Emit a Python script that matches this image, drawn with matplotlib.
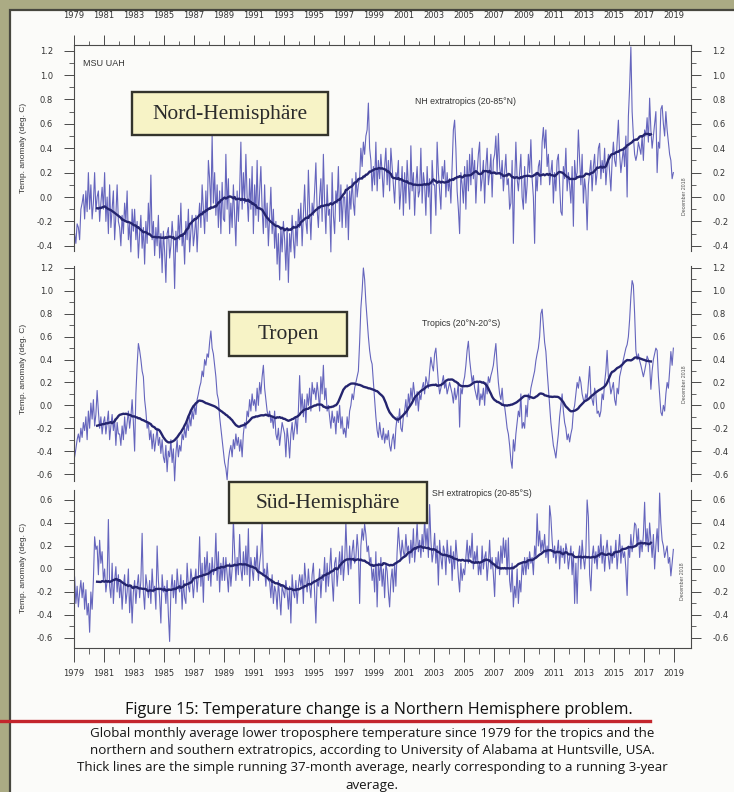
import numpy as np
import matplotlib.pyplot as plt
from matplotlib.patches import Rectangle
from matplotlib.lines import Line2D
from matplotlib.ticker import MultipleLocator, FixedLocator, FuncFormatter

# monthly anomalies (deg C), one row per year 1979..2018
nh_rows = [
    [-0.30, -0.38, -0.22, -0.25, -0.35, -0.10, -0.05, 0.02, -0.18, 0.05, -0.12, 0.20],
    [-0.10, 0.10, -0.18, -0.05, 0.20, -0.12, 0.00, 0.05, -0.20, -0.05, 0.08, -0.10],
    [0.20, -0.20, 0.00, -0.30, 0.10, -0.25, -0.10, 0.05, -0.35, -0.15, 0.10, -0.20],
    [-0.25, -0.40, -0.15, -0.30, -0.05, -0.20, 0.05, -0.35, -0.22, -0.45, -0.10, -0.28],
    [-0.10, -0.35, -0.20, -0.50, -0.30, -0.15, -0.42, -0.25, -0.55, -0.20, -0.38, -0.05],
    [-0.30, 0.18, -0.35, -0.20, -0.48, -0.25, -0.40, -0.15, -0.50, -0.30, -0.62, -0.28],
    [-0.45, -0.70, -0.30, -0.25, -0.50, -0.40, -0.20, -0.35, -0.75, -0.28, -0.45, -0.15],
    [-0.35, -0.05, -0.40, -0.30, -0.55, -0.20, -0.35, -0.10, -0.45, -0.28, -0.15, -0.40],
    [-0.30, -0.15, -0.45, -0.20, -0.05, -0.25, 0.10, -0.10, -0.30, 0.05, -0.20, 0.30],
    [0.15, -0.10, 0.50, -0.05, 0.20, -0.15, 0.10, -0.25, 0.05, -0.30, 0.12, -0.18],
    [-0.20, 0.35, -0.10, 0.15, -0.30, -0.05, -0.25, 0.10, -0.15, -0.40, 0.05, -0.20],
    [0.05, 0.45, -0.10, 0.20, -0.05, 0.35, 0.00, -0.20, 0.15, -0.10, 0.25, -0.30],
    [0.10, -0.15, 0.30, -0.20, 0.05, 0.25, -0.10, -0.30, 0.10, -0.25, -0.05, -0.40],
    [-0.15, 0.08, -0.30, -0.10, -0.42, -0.20, -0.55, -0.30, -0.68, -0.25, -0.45, -0.20],
    [-0.35, -0.60, -0.25, -0.70, -0.30, -0.45, -0.15, -0.35, -0.50, -0.20, -0.40, -0.10],
    [-0.25, -0.05, -0.40, -0.15, 0.10, -0.20, -0.30, 0.22, -0.10, -0.35, -0.05, -0.15],
    [0.05, 0.28, -0.10, -0.25, 0.00, 0.15, -0.20, 0.35, -0.05, -0.30, 0.10, -0.15],
    [-0.10, -0.45, 0.20, -0.15, -0.30, 0.05, -0.05, 0.25, -0.20, 0.10, -0.25, 0.00],
    [0.00, -0.25, 0.10, -0.35, 0.05, -0.10, 0.15, -0.05, -0.15, 0.20, 0.00, 0.10],
    [0.15, 0.40, 0.25, 0.45, 0.35, 0.50, 0.55, 0.77, 0.40, 0.30, 0.05, 0.25],
    [0.10, 0.45, 0.05, 0.30, 0.15, 0.35, 0.20, 0.00, 0.25, 0.40, 0.10, 0.30],
    [0.05, 0.40, 0.25, 0.10, -0.05, 0.20, 0.15, 0.30, -0.10, 0.05, 0.25, -0.15],
    [0.20, -0.05, 0.30, 0.10, -0.10, 0.42, 0.05, 0.20, -0.15, 0.10, 0.25, 0.00],
    [0.05, 0.40, -0.05, 0.20, 0.10, -0.15, 0.25, 0.00, 0.15, -0.30, 0.30, 0.10],
    [0.10, -0.15, 0.45, 0.20, 0.05, -0.10, 0.25, 0.15, 0.30, 0.00, 0.20, 0.05],
    [0.15, -0.05, 0.25, 0.55, 0.63, 0.40, 0.05, -0.10, -0.30, 0.20, 0.10, -0.05],
    [0.25, -0.10, 0.30, 0.05, 0.35, 0.10, 0.40, 0.15, 0.30, -0.05, 0.20, 0.35],
    [0.45, 0.05, 0.15, 0.30, -0.05, 0.25, 0.40, 0.10, 0.20, 0.35, 0.00, 0.30],
    [0.35, 0.50, 0.20, 0.52, 0.25, 0.15, 0.30, 0.05, 0.20, 0.35, 0.10, 0.15],
    [-0.10, -0.05, 0.30, -0.38, 0.10, 0.45, 0.15, 0.05, 0.20, 0.35, 0.00, -0.10],
    [0.25, -0.05, 0.10, 0.35, 0.20, 0.47, 0.15, 0.00, -0.38, 0.20, 0.05, 0.25],
    [0.30, 0.10, 0.45, 0.57, 0.40, 0.55, 0.25, 0.35, 0.10, 0.20, 0.30, -0.05],
    [0.20, 0.05, 0.30, 0.35, 0.10, -0.12, -0.15, 0.25, 0.15, 0.40, 0.05, 0.20],
    [0.10, -0.05, 0.25, -0.24, 0.30, 0.15, 0.20, 0.55, 0.30, 0.10, 0.35, -0.05],
    [0.15, 0.05, -0.27, 0.10, 0.20, 0.30, 0.05, 0.25, 0.35, 0.10, 0.20, 0.40],
    [0.44, 0.15, 0.30, 0.20, 0.40, 0.10, 0.25, 0.35, 0.20, 0.05, 0.30, 0.45],
    [0.30, 0.25, 0.45, 0.63, 0.35, 0.20, 0.30, 0.40, 0.25, 0.50, 0.00, 0.66],
    [0.90, 1.23, 0.70, 0.50, 0.35, 0.30, 0.35, 0.45, 0.40, 0.35, 0.50, 0.30],
    [0.55, 0.50, 0.65, 0.45, 0.81, 0.55, 0.40, 0.50, 0.60, 0.70, 0.20, 0.45],
    [0.40, 0.72, 0.75, 0.60, 0.50, 0.70, 0.55, 0.45, 0.35, 0.30, 0.15, 0.20],
]

tr_rows = [
    [-0.45, -0.38, -0.30, -0.25, -0.32, -0.20, -0.28, -0.15, -0.22, -0.10, -0.30, -0.05],
    [-0.20, 0.02, -0.12, 0.05, -0.18, -0.08, 0.13, -0.05, -0.20, -0.10, -0.25, -0.15],
    [-0.10, -0.25, -0.15, -0.05, -0.30, -0.18, -0.08, -0.22, -0.12, -0.35, -0.15, -0.25],
    [-0.25, -0.35, -0.18, -0.30, -0.10, -0.25, -0.15, -0.05, -0.20, -0.10, 0.05, -0.15],
    [-0.40, 0.10, 0.35, 0.54, 0.48, 0.40, 0.30, 0.25, 0.05, -0.05, -0.20, -0.15],
    [-0.30, -0.22, -0.38, -0.25, -0.40, -0.30, -0.20, -0.35, -0.28, -0.42, -0.30, -0.45],
    [-0.50, -0.35, -0.58, -0.40, -0.45, -0.30, -0.50, -0.38, -0.66, -0.42, -0.30, -0.45],
    [-0.35, -0.40, -0.25, -0.30, -0.20, -0.28, -0.15, -0.22, -0.10, -0.18, -0.05, -0.12],
    [0.00, -0.08, 0.05, 0.10, 0.16, 0.20, 0.30, 0.25, 0.40, 0.35, 0.45, 0.42],
    [0.55, 0.65, 0.50, 0.45, 0.35, 0.25, 0.10, 0.05, -0.10, -0.20, -0.30, -0.40],
    [-0.50, -0.55, -0.65, -0.48, -0.40, -0.35, -0.45, -0.30, -0.38, -0.25, -0.35, -0.28],
    [-0.40, -0.30, -0.45, -0.25, -0.15, -0.20, -0.05, -0.10, 0.05, -0.05, 0.10, 0.00],
    [0.05, -0.05, 0.15, 0.00, 0.20, 0.10, 0.25, 0.35, 0.15, 0.05, -0.05, -0.10],
    [-0.05, -0.15, -0.10, -0.20, -0.05, -0.25, -0.30, -0.20, -0.35, -0.25, -0.15, -0.20],
    [-0.25, -0.45, -0.20, -0.30, -0.46, -0.25, -0.15, -0.30, -0.20, -0.10, -0.25, -0.05],
    [0.26, -0.05, 0.10, -0.10, 0.05, -0.15, 0.10, 0.00, 0.15, -0.05, 0.20, 0.10],
    [0.15, 0.05, 0.20, 0.10, -0.05, 0.25, 0.10, 0.35, 0.05, 0.15, -0.05, 0.00],
    [-0.10, -0.20, -0.05, -0.15, -0.10, -0.25, -0.05, -0.15, 0.00, -0.20, -0.10, -0.25],
    [-0.20, -0.28, -0.10, -0.20, -0.05, 0.00, 0.10, 0.05, 0.15, 0.20, 0.25, 0.30],
    [0.55, 0.85, 1.00, 1.20, 1.10, 0.90, 0.75, 0.60, 0.48, 0.40, 0.36, 0.20],
    [0.05, -0.10, -0.22, -0.28, -0.15, -0.25, -0.30, -0.20, -0.33, -0.25, -0.30, -0.22],
    [-0.35, -0.40, -0.30, -0.25, -0.38, -0.20, -0.10, -0.15, -0.03, -0.20, -0.23, -0.10],
    [-0.05, 0.05, -0.10, 0.10, 0.00, 0.15, 0.05, 0.20, 0.10, 0.00, 0.12, -0.05],
    [0.10, 0.05, 0.15, 0.20, 0.10, 0.25, 0.20, 0.15, 0.30, 0.42, 0.35, 0.30],
    [0.45, 0.50, 0.35, 0.20, 0.10, 0.15, 0.20, 0.26, 0.15, 0.20, 0.10, 0.15],
    [0.20, 0.15, 0.10, 0.02, 0.15, 0.05, 0.10, 0.20, -0.19, 0.15, 0.10, 0.20],
    [0.25, 0.35, 0.48, 0.56, 0.40, 0.30, 0.20, 0.26, 0.15, 0.10, 0.05, 0.20],
    [0.00, 0.10, 0.05, 0.15, 0.00, 0.20, 0.10, 0.25, 0.20, 0.26, 0.30, 0.35],
    [0.45, 0.54, 0.35, 0.20, 0.10, 0.05, 0.15, 0.00, -0.01, -0.10, -0.20, -0.25],
    [-0.35, -0.48, -0.55, -0.30, -0.40, -0.25, -0.15, -0.05, -0.10, 0.10, -0.20, -0.15],
    [-0.20, 0.00, -0.10, 0.10, 0.05, 0.15, 0.20, 0.25, 0.30, 0.39, 0.45, 0.50],
    [0.60, 0.80, 0.84, 0.70, 0.55, 0.47, 0.30, 0.15, 0.00, -0.15, -0.25, -0.35],
    [-0.40, -0.46, -0.35, -0.25, -0.10, 0.00, 0.10, -0.05, -0.15, -0.20, -0.30, -0.25],
    [-0.32, -0.25, -0.20, -0.05, 0.00, 0.10, 0.20, 0.15, 0.25, 0.20, 0.10, 0.05],
    [0.03, 0.10, 0.05, 0.20, 0.34, 0.10, 0.05, 0.00, 0.15, 0.10, -0.07, -0.05],
    [-0.10, -0.05, 0.10, 0.05, 0.20, 0.30, 0.48, 0.25, 0.20, 0.10, 0.15, 0.20],
    [0.05, 0.00, 0.15, 0.10, 0.25, 0.30, 0.35, 0.40, 0.45, 0.50, 0.53, 0.60],
    [0.75, 0.95, 1.09, 1.05, 0.80, 0.48, 0.40, 0.45, 0.39, 0.35, 0.30, 0.25],
    [0.30, 0.36, 0.43, 0.40, 0.35, 0.14, 0.30, 0.40, 0.45, 0.50, 0.48, 0.25],
    [0.10, -0.06, -0.09, 0.00, -0.05, 0.10, 0.20, 0.15, 0.30, 0.47, 0.35, 0.50],
]

sh_rows = [
    [-0.07, -0.30, -0.15, -0.33, -0.20, -0.10, -0.25, -0.12, -0.35, -0.18, -0.40, -0.30],
    [-0.55, -0.20, -0.35, -0.10, 0.28, 0.17, 0.20, -0.05, 0.25, 0.05, 0.15, -0.10],
    [0.00, -0.20, -0.10, 0.43, -0.15, -0.25, 0.05, -0.30, -0.10, 0.02, -0.20, -0.05],
    [-0.25, -0.10, -0.35, -0.15, -0.05, -0.30, -0.20, 0.00, -0.38, -0.15, -0.47, -0.20],
    [-0.10, -0.30, -0.15, -0.05, -0.25, -0.10, 0.31, -0.20, -0.35, -0.05, -0.15, -0.25],
    [-0.10, -0.30, 0.00, -0.20, -0.15, -0.35, 0.20, -0.10, -0.25, -0.47, -0.05, -0.20],
    [-0.15, -0.30, -0.10, -0.40, -0.63, -0.20, -0.05, -0.25, -0.10, -0.30, 0.00, -0.15],
    [-0.20, -0.05, -0.35, -0.10, -0.25, -0.30, 0.05, -0.15, -0.20, 0.00, -0.10, -0.25],
    [-0.10, 0.00, -0.20, -0.05, 0.28, -0.15, 0.05, -0.29, 0.10, -0.05, 0.15, -0.10],
    [0.05, -0.15, 0.10, -0.05, 0.00, 0.31, -0.10, 0.15, -0.20, 0.05, -0.10, 0.10],
    [-0.10, 0.10, -0.05, -0.20, 0.05, -0.15, 0.00, 0.43, 0.15, -0.10, 0.10, -0.05],
    [0.30, 0.00, -0.10, 0.15, -0.05, 0.20, -0.05, 0.35, -0.15, 0.10, 0.00, -0.10],
    [0.10, 0.00, 0.20, -0.10, 0.05, 0.15, 0.40, -0.05, 0.00, -0.15, 0.05, -0.10],
    [-0.11, -0.25, -0.05, -0.30, -0.15, -0.20, -0.35, -0.10, -0.25, -0.40, -0.15, -0.20],
    [-0.25, -0.10, -0.20, -0.35, -0.15, -0.47, -0.05, -0.20, -0.25, -0.10, -0.30, -0.15],
    [-0.05, -0.15, -0.05, -0.30, 0.05, -0.10, -0.20, 0.00, -0.15, -0.25, -0.05, 0.05],
    [-0.20, -0.47, -0.10, -0.15, 0.00, -0.25, -0.05, -0.10, 0.10, -0.20, 0.05, -0.15],
    [0.00, 0.18, -0.10, -0.28, 0.05, 0.10, -0.15, 0.00, 0.15, -0.05, 0.20, -0.10],
    [0.05, 0.40, 0.10, -0.05, 0.20, 0.00, 0.15, 0.25, 0.05, 0.10, 0.30, 0.15],
    [-0.30, 0.20, 0.35, 0.25, 0.39, 0.30, 0.15, 0.20, 0.05, 0.10, -0.10, 0.00],
    [-0.20, 0.15, -0.33, 0.05, -0.10, 0.10, -0.15, 0.00, -0.25, 0.05, -0.02, -0.20],
    [-0.33, -0.10, 0.00, -0.20, 0.05, -0.15, 0.15, 0.36, 0.20, 0.09, 0.25, 0.15],
    [0.10, 0.30, 0.15, 0.20, 0.05, 0.25, 0.10, 0.35, 0.06, 0.20, 0.40, 0.15],
    [0.25, 0.10, 0.30, 0.15, 0.45, 0.20, 0.35, 0.10, 0.56, 0.25, 0.06, 0.15],
    [0.31, 0.05, 0.20, -0.14, 0.25, 0.10, 0.00, 0.20, 0.15, -0.05, 0.25, 0.10],
    [0.05, 0.20, -0.10, 0.15, 0.00, 0.25, 0.10, -0.07, -0.20, 0.05, -0.10, 0.00],
    [-0.05, 0.10, 0.25, 0.05, 0.20, 0.10, 0.31, 0.00, 0.15, 0.05, 0.20, -0.05],
    [0.05, -0.05, 0.20, 0.00, 0.10, 0.15, -0.10, 0.05, 0.25, 0.00, 0.10, -0.05],
    [-0.24, 0.10, 0.00, 0.15, -0.05, 0.20, 0.05, 0.27, 0.10, 0.25, -0.05, 0.27],
    [-0.10, -0.20, 0.05, -0.33, -0.15, -0.25, 0.00, -0.30, -0.10, -0.20, 0.05, -0.05],
    [0.10, -0.05, 0.10, 0.00, 0.15, 0.05, 0.10, -0.05, 0.20, 0.10, 0.48, 0.20],
    [0.33, 0.15, 0.25, 0.16, 0.30, 0.10, 0.20, 0.05, 0.55, 0.45, 0.25, 0.10],
    [0.20, 0.05, 0.15, 0.25, 0.00, 0.20, 0.10, 0.18, 0.05, 0.22, 0.15, 0.00],
    [0.10, 0.20, -0.05, 0.15, -0.30, 0.05, -0.30, 0.10, 0.20, 0.00, 0.25, 0.10],
    [0.00, 0.15, 0.60, 0.45, -0.05, -0.19, 0.10, 0.20, 0.05, 0.15, 0.00, 0.20],
    [0.10, 0.30, 0.05, 0.20, -0.02, 0.15, 0.25, 0.10, 0.00, 0.20, 0.05, 0.15],
    [0.10, 0.25, 0.00, 0.15, 0.30, 0.05, 0.20, 0.10, 0.15, 0.00, -0.23, 0.20],
    [0.10, 0.30, 0.15, 0.25, 0.40, 0.38, 0.20, 0.35, 0.10, 0.25, 0.15, 0.30],
    [0.58, 0.20, 0.35, 0.15, 0.40, 0.25, 0.10, 0.30, 0.00, 0.20, 0.35, 0.15],
    [0.66, 0.40, 0.25, 0.20, 0.10, 0.15, 0.20, 0.05, 0.10, -0.06, 0.05, 0.17],
]

first_year = 1979
year_ticks = list(range(1979, 2020, 2))

W, H = 734, 792
fig = plt.figure(figsize=(W / 100, H / 100), dpi=100)
fig.patch.set_facecolor('#abab84')

# white page with dark edge
page = Rectangle((10 / W, -0.05), 1.0, 1.05 - 10 / H, transform=fig.transFigure,
                 facecolor='#fbfbf9', edgecolor='#47473f', lw=1.6, zorder=-1)
fig.add_artist(page)


def fbox(x0, y0, x1, y1):
    # pixel box (top-left origin) -> figure coords
    return [x0 / W, 1 - y1 / H, (x1 - x0) / W, (y1 - y0) / H]


X0, X1 = 74, 691
xmax = first_year + (X1 - X0) / 15.0

thin_c = '#6565bd'
thick_c = '#24246e'
spine_c = '#4a4a4a'
tick_fs = 6


def fmt(v, pos):
    return '0.0' if abs(v) < 1e-9 else f'{v:.1f}'


def make_panel(px_top, px_bot, ylim, rows, top=False, bottom=False):
    ax = fig.add_axes(fbox(X0, px_top, X1, px_bot))
    ax.set_facecolor('none')
    ax.set_xlim(first_year, xmax)
    ax.set_ylim(*ylim)
    for s in ['left', 'right']:
        ax.spines[s].set_color(spine_c)
        ax.spines[s].set_linewidth(0.8)
    ax.spines['top'].set_visible(top)
    ax.spines['bottom'].set_visible(bottom)
    ax.spines['top'].set_color(spine_c)
    ax.spines['bottom'].set_color(spine_c)

    ax.yaxis.set_major_locator(MultipleLocator(0.2))
    ax.yaxis.set_minor_locator(MultipleLocator(0.1))
    ax.yaxis.set_major_formatter(FuncFormatter(fmt))
    ax.tick_params(axis='y', which='both', left=True, right=True,
                   labelleft=True, labelright=True, direction='out',
                   colors=spine_c, labelcolor='#333333', labelsize=tick_fs)
    ax.tick_params(axis='y', which='major', length=7.2, width=0.7, pad=8)
    ax.tick_params(axis='y', which='minor', length=3.6, width=0.6)

    ax.xaxis.set_major_locator(FixedLocator(year_ticks))
    ax.xaxis.set_minor_locator(FixedLocator(range(1980, 2020, 2)))
    ax.xaxis.set_major_formatter(FuncFormatter(lambda v, p: str(int(round(v)))))
    if top:
        ax.tick_params(axis='x', which='both', top=True, bottom=False,
                       labeltop=True, labelbottom=False, direction='out',
                       colors=spine_c, labelcolor='#333333', labelsize=tick_fs)
        ax.tick_params(axis='x', which='major', length=7.2, width=0.7, pad=11)
        ax.tick_params(axis='x', which='minor', length=3, width=0.6)
    elif bottom:
        ax.tick_params(axis='x', which='both', top=False, bottom=True,
                       labeltop=False, labelbottom=True, direction='out',
                       colors=spine_c, labelcolor='#333333', labelsize=tick_fs)
        ax.tick_params(axis='x', which='major', length=10, width=0.7, pad=5)
        ax.tick_params(axis='x', which='minor', length=4.5, width=0.6)
    else:
        ax.tick_params(axis='x', which='both', top=False, bottom=False,
                       labeltop=False, labelbottom=False)

    vals = np.array(rows, dtype=float).ravel()
    t = first_year + np.arange(vals.size) / 12.0 + 1 / 24
    run = np.convolve(vals, np.ones(37) / 37, mode='valid')
    ax.plot(t, vals, color=thin_c, lw=0.8, clip_on=False, zorder=2)
    ax.plot(t[18:-18], run, color=thick_c, lw=1.7, clip_on=False, zorder=3)
    return ax


ax_nh = make_panel(45, 250.7, (-0.44, 1.246), nh_rows, top=True)
ax_tr = make_panel(265.7, 480.9, (-0.66, 1.22), tr_rows)
ax_sh = make_panel(489.6, 648, (-0.687, 0.69), sh_rows, bottom=True)

label_font = ['Liberation Sans', 'DejaVu Sans']


def ptext(x, y, s, **kw):
    return fig.text(x / W, 1 - y / H, s, **kw)


ylab = 'Temp. anomaly (deg. C)'
for yc in (148, 369, 568):
    ptext(24, yc, ylab, rotation=90, ha='center', va='center', fontsize=6,
          color='#333333', family=label_font)

ptext(83, 63, 'MSU UAH', ha='left', va='center', fontsize=6.5, color='#333333', family=label_font)
ptext(415, 102, 'NH extratropics (20-85°N)', ha='left', va='center', fontsize=6.3,
      color='#333333', family=label_font)
ptext(422, 323, 'Tropics (20°N-20°S)', ha='left', va='center', fontsize=6.3,
      color='#333333', family=label_font)
ptext(432, 494, 'SH extratropics (20-85°S)', ha='left', va='center', fontsize=6.3,
      color='#333333', family=label_font)
for xc, yc in ((684, 196), (684, 384), (683, 581)):
    ptext(xc, yc, 'December 2018', rotation=90, ha='center', va='center',
          fontsize=3.8, color='#555555', family=label_font)

# region boxes
serif = ['Liberation Serif', 'DejaVu Serif']
for (x0, y0, x1, y1), name in (((132, 92, 328, 135), 'Nord-Hemisphäre'),
                               ((229, 312, 347, 356), 'Tropen'),
                               ((229, 482, 427, 523), 'Süd-Hemisphäre')):
    b = fbox(x0, y0, x1, y1)
    fig.add_artist(Rectangle((b[0], b[1]), b[2], b[3], transform=fig.transFigure,
                             facecolor='#f7f3c6', edgecolor='#34342c', lw=1.7, zorder=5))
    ptext((x0 + x1) / 2, (y0 + y1) / 2 + 1, name, ha='center', va='center',
          fontsize=15.5, color='#2b2b2b', family=serif, zorder=6)

# caption
cap_font = ['Open Sans', 'DejaVu Sans']
fig.add_artist(Line2D([0, 650 / W], [1 - 721 / H, 1 - 721 / H], transform=fig.transFigure,
                      color='#c3252c', lw=2.4, zorder=4))
ptext(379, 710, 'Figure 15: Temperature change is a Northern Hemisphere problem.',
      ha='center', va='center', fontsize=11.6, color='#111111', family=cap_font, zorder=6)
body = [
    'Global monthly average lower troposphere temperature since 1979 for the tropics and the',
    'northern and southern extratropics, according to University of Alabama at Huntsville, USA.',
    'Thick lines are the simple running 37-month average, nearly corresponding to a running 3-year',
    'average.',
]
for i, line in enumerate(body):
    ptext(372, 733 + 17.5 * i, line, ha='center', va='center', fontsize=9.6,
          color='#151515', family=cap_font)

fig.savefig('out.png', dpi=100, facecolor=fig.get_facecolor())
